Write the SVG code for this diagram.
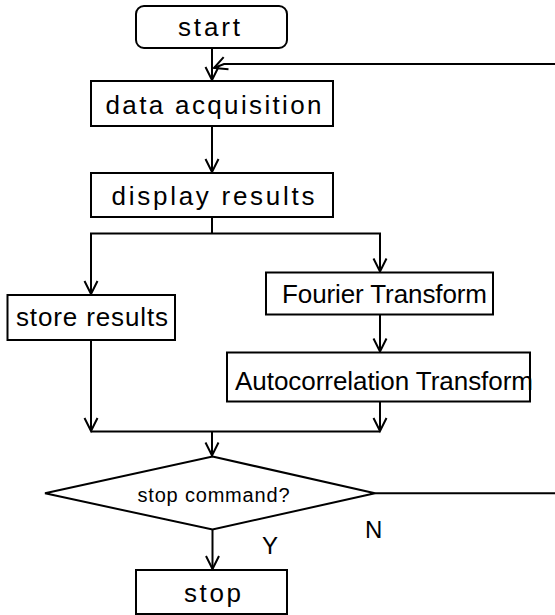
<svg xmlns="http://www.w3.org/2000/svg" width="555" height="615" viewBox="0 0 555 615">
  <style>
    .box { fill: #fff; stroke: #000; stroke-width: 2; }
    .ln { fill: none; stroke: #000; stroke-width: 2; }
    .t { font-family: "Liberation Sans", Arial, sans-serif; font-size: 26px; fill: #000; }
    .s { font-family: "Liberation Sans", Arial, sans-serif; font-size: 20px; fill: #000; }
    .lbl { font-family: "Liberation Sans", Arial, sans-serif; font-size: 24px; fill: #000; }
  </style>
  <defs>
    <marker id="arr" markerUnits="userSpaceOnUse" markerWidth="16" markerHeight="16" refX="14" refY="7" orient="auto" overflow="visible">
      <path d="M1,0.5 L14,7 L1,13.5" fill="none" stroke="#000" stroke-width="2"/>
    </marker>
  </defs>
  <rect width="555" height="615" fill="#fff"/>
  <g id="connectors">
    <path class="ln" d="M212,48 V80" marker-end="url(#arr)"/>
    <path class="ln" d="M555,64 H224 L214,68" marker-end="url(#arr)"/>
    <path class="ln" d="M212,126 V172" marker-end="url(#arr)"/>
    <path class="ln" d="M212,217 V233.5"/>
    <path class="ln" d="M212,233.5 H91 V294" marker-end="url(#arr)"/>
    <path class="ln" d="M212,233.5 H380 V271.5" marker-end="url(#arr)"/>
    <path class="ln" d="M380,314.5 V351.5" marker-end="url(#arr)"/>
    <path class="ln" d="M91,340 V431" marker-end="url(#arr)"/>
    <path class="ln" d="M380,401.5 V431" marker-end="url(#arr)"/>
    <path class="ln" d="M91,431.5 H380"/>
    <path class="ln" d="M212,431.5 V455.5" marker-end="url(#arr)"/>
    <path class="ln" d="M212.5,529.5 V569" marker-end="url(#arr)"/>
    <path class="ln" d="M375,493.3 H555"/>
  </g>
  <g id="start">
    <rect class="box" x="136" y="6" width="151" height="42" rx="8"/>
    <text class="t" x="178" y="36" textLength="62" lengthAdjust="spacing">start</text>
  </g>
  <g id="data-acquisition">
    <rect class="box" x="91" y="81" width="242" height="45"/>
    <text class="t" x="105.5" y="114.3" textLength="216" lengthAdjust="spacing">data acquisition</text>
  </g>
  <g id="display-results">
    <rect class="box" x="91" y="173" width="242" height="44"/>
    <text class="t" x="111.5" y="205" textLength="203" lengthAdjust="spacing">display results</text>
  </g>
  <g id="store-results">
    <rect class="box" x="7.5" y="295" width="167.5" height="45"/>
    <text class="t" x="16" y="326" textLength="152" lengthAdjust="spacing">store results</text>
  </g>
  <g id="fourier-transform">
    <rect class="box" x="266" y="272.5" width="227" height="42"/>
    <text class="t" x="282" y="303" textLength="205" lengthAdjust="spacing">Fourier Transform</text>
  </g>
  <g id="autocorrelation-transform">
    <rect class="box" x="227" y="352.5" width="303" height="49"/>
    <text class="t" x="235" y="390" textLength="298" lengthAdjust="spacing">Autocorrelation Transform</text>
  </g>
  <g id="stop-command">
    <polygon class="box" points="212.5,456.5 375,493.3 212.5,529.5 45,493.3"/>
    <text class="s" x="137.5" y="502" textLength="152" lengthAdjust="spacing">stop command?</text>
  </g>
  <g id="labels">
    <text class="lbl" x="365" y="537.5">N</text>
    <text class="lbl" x="262" y="553.5">Y</text>
  </g>
  <g id="stop">
    <rect class="box" x="136" y="570" width="151" height="44"/>
    <text class="t" x="184" y="602" textLength="57" lengthAdjust="spacing">stop</text>
  </g>
</svg>
